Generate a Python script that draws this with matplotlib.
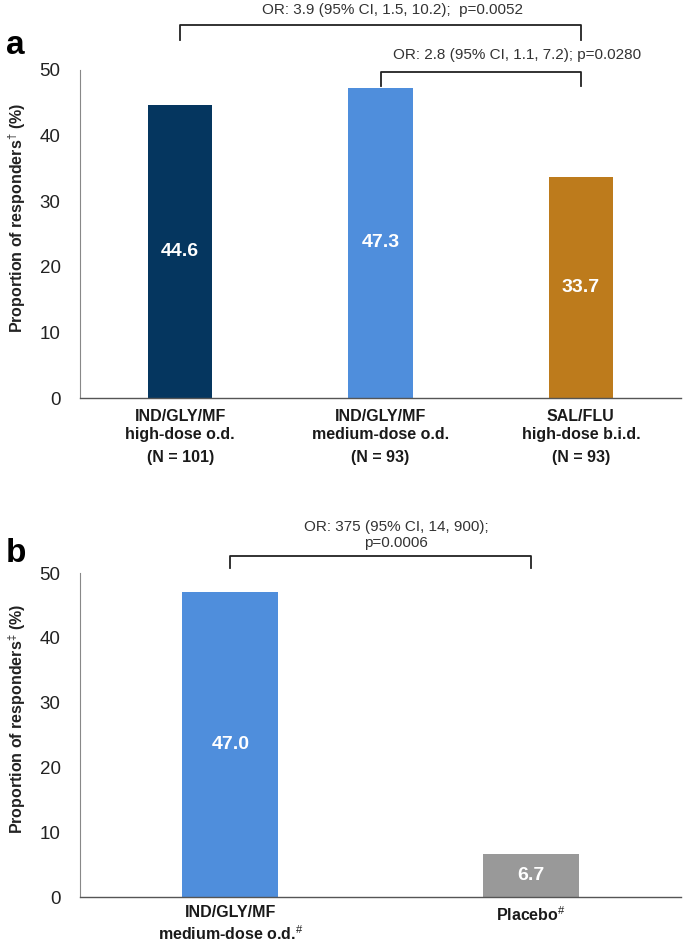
import matplotlib
matplotlib.use("Agg")
import matplotlib.pyplot as plt

plt.rcParams['font.family'] = ['Liberation Sans', 'DejaVu Sans']
plt.rcParams['mathtext.fontset'] = 'custom'
plt.rcParams['mathtext.rm'] = 'Liberation Sans'
plt.rcParams['mathtext.bf'] = 'Liberation Sans:bold'

# Panel a data
cats_a = ["IND/GLY/MF\nhigh-dose o.d.", "IND/GLY/MF\nmedium-dose o.d.", "SAL/FLU\nhigh-dose b.i.d."]
ns_a = ["(N = 101)", "(N = 93)", "(N = 93)"]
vals_a = [44.6, 47.3, 33.7]
colors_a = ["#05365F", "#4F8EDC", "#BD7B1C"]

# Panel b data
cats_b = ["IND/GLY/MF\nmedium-dose o.d.$^{\\#}$", "Placebo$^{\\#}$"]
vals_b = [47.0, 6.7]
colors_b = ["#4F8EDC", "#999999"]

yticks = [0, 10, 20, 30, 40, 50]

fig = plt.figure(figsize=(6.85, 9.51), dpi=100)
W, H = 685, 951

def make_ax(left, top, right, bottom):
    return fig.add_axes([left / W, 1 - bottom / H, (right - left) / W, (bottom - top) / H])

ax1 = make_ax(80, 70, 681, 398)
ax2 = make_ax(80, 573, 681, 897)

def style(ax, ncat, ylabel):
    ax.set_xlim(-0.5, ncat - 0.5)
    ax.set_ylim(0, 50)
    ax.set_yticks(yticks)
    ax.set_yticklabels([str(t) for t in yticks], fontsize=13.5, color="#222222")
    ax.set_xticks([])
    ax.tick_params(axis='y', length=0, pad=14)
    for s in ['top', 'right']:
        ax.spines[s].set_visible(False)
    ax.spines['left'].set_color('#888888')
    ax.spines['left'].set_linewidth(0.8)
    ax.spines['bottom'].set_color('#555555')
    ax.spines['bottom'].set_linewidth(1.0)
    ax.set_ylabel(ylabel, fontsize=11.5, fontweight='bold', color="#222222")
    ax.yaxis.label.set_va('center')
    ax.yaxis.set_label_coords(-0.105, 0.55)

style(ax1, 3, "Proportion of responders$^{†}$ (%)")
style(ax2, 2, "Proportion of responders$^{‡}$ (%)")

# Panel a bars
x_a = list(range(len(vals_a)))
ax1.bar(x_a, vals_a, width=0.32, color=colors_a, zorder=2)
for xi, v in zip(x_a, vals_a):
    ax1.text(xi, v / 2, f"{v:.1f}", ha='center', va='center', color='white',
             fontsize=14, fontweight='bold')
tr1 = ax1.get_xaxis_transform()
for xi, c, n in zip(x_a, cats_a, ns_a):
    ax1.text(xi, -0.033, c, transform=tr1, ha='center', va='top', fontsize=11.5,
             fontweight='bold', color='#1a1a1a', linespacing=1.25)
    ax1.text(xi, -0.18, n, transform=tr1, ha='center', va='center', fontsize=11.5,
             fontweight='bold', color='#1a1a1a')

# brackets panel a
bk = dict(color='#222222', lw=1.3, clip_on=False)
ax1.plot([0, 0, 2, 2], [54.6, 56.9, 56.9, 54.6], **bk)
ax1.text(1.06, 59.2, "OR: 3.9 (95% CI, 1.5, 10.2);  p=0.0052", ha='center', va='center',
         fontsize=11, color='#333333', clip_on=False)
ax1.plot([1, 1, 2, 2], [47.5, 49.7, 49.7, 47.5], **bk)
ax1.text(1.68, 52.3, "OR: 2.8 (95% CI, 1.1, 7.2); p=0.0280", ha='center', va='center',
         fontsize=11, color='#333333', clip_on=False)

# Panel b bars
x_b = list(range(len(vals_b)))
ax2.bar(x_b, vals_b, width=0.32, color=colors_b, zorder=2)
for xi, v in zip(x_b, vals_b):
    ax2.text(xi, v / 2, f"{v:.1f}", ha='center', va='center', color='white',
             fontsize=14, fontweight='bold')
tr2 = ax2.get_xaxis_transform()
for xi, c in zip(x_b, cats_b):
    ax2.text(xi, -0.025, c, transform=tr2, ha='center', va='top', fontsize=11.5,
             fontweight='bold', color='#1a1a1a', linespacing=1.25)

ax2.plot([0, 0, 1, 1], [50.8, 52.6, 52.6, 50.8], **bk)
ax2.text(0.553, 57.1, "OR: 375 (95% CI, 14, 900);", ha='center', va='center',
         fontsize=11, color='#333333', clip_on=False)
ax2.text(0.553, 54.7, "p=0.0006", ha='center', va='center',
         fontsize=11, color='#333333', clip_on=False)

# panel letters
fig.text(6 / W, 1 - 45 / H, "a", fontsize=24, fontweight='bold', va='center', ha='left')
fig.text(6 / W, 1 - 553 / H, "b", fontsize=24, fontweight='bold', va='center', ha='left')

fig.savefig("out.png", dpi=100)
